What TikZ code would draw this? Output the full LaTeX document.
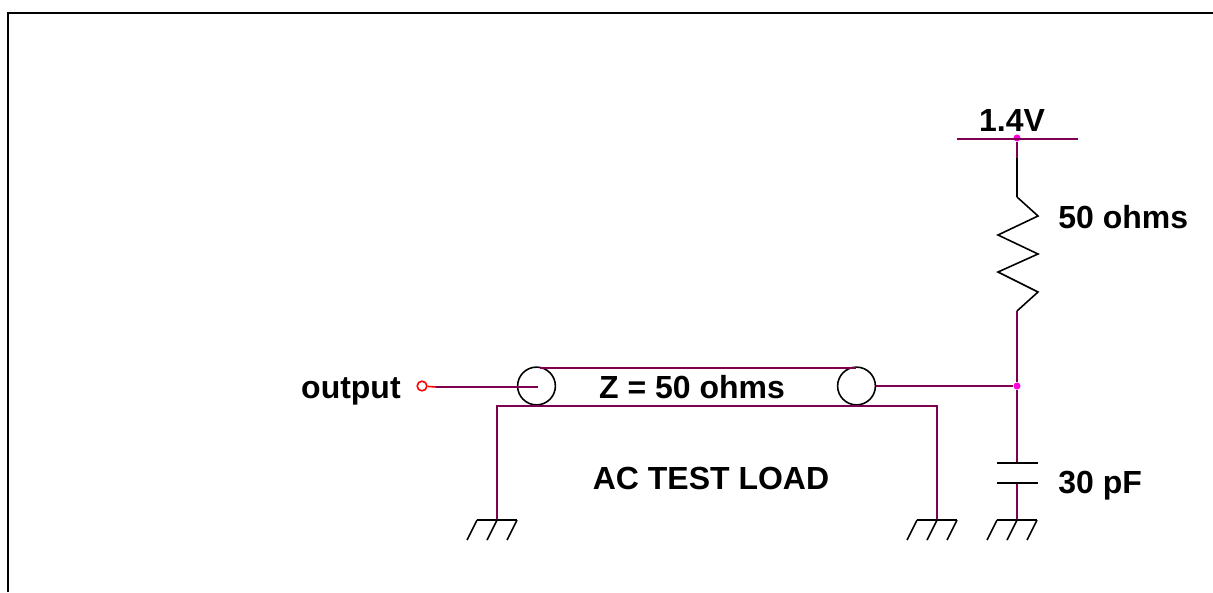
\documentclass[tikz,border=0pt]{standalone}
\usepackage{fontspec}
\setmainfont{Liberation Sans}
\usepackage{xcolor}
\usetikzlibrary{calc}
\definecolor{wire}{RGB}{128,0,80}
\definecolor{junction}{RGB}{255,0,220}
\tikzset{
    lbl/.style={font=\bfseries\fontsize{18.2}{20}\selectfont, inner sep=0pt},
    net/.style={wire, line width=0.9pt},
    part/.style={black, line width=0.9pt},
    dot/.style={circle, fill=junction, inner sep=0pt, minimum size=4pt},
    coax/.style={circle, draw=black, line width=0.9pt, inner sep=0pt, minimum size=21.5pt}
}
\newcommand{\gndsym}[1]{
    \draw[part] ($(#1)+(-20,0)$) -- ($(#1)+(20,0)$);
    \foreach \dx in {-20,0,20}
        \draw[part] ($(#1)+(\dx,0)$) -- ($(#1)+(\dx-10,20)$);
}
\begin{document}
\begin{tikzpicture}[x=0.02cm, y=-0.02cm]
    \useasboundingbox (0,0) rectangle (1213,592);
    % frame
    \draw[black, line width=1.2pt] (8,592) -- (8,13) -- (1213,13);

    % nodes
    \node[dot] (top) at (1017,138) {};
    \node[dot] (mid) at (1017,386) {};
    \node[coax] (cl) at (536.5,386) {};
    \node[coax] (cr) at (856.5,386) {};
    \node[circle, draw=red, line width=0.9pt, inner sep=0pt, minimum size=5.5pt] (out) at (422,386) {};
    \coordinate (clc) at (538,387);
    \coordinate (outw) at (436,387);
    \coordinate (shl) at (540,368);
    \coordinate (shr) at (856,368);
    \coordinate (railL) at (957,139);
    \coordinate (railR) at (1078,139);
    \coordinate (resW) at (1017,158);
    \coordinate (resT) at (1017,197);
    \coordinate (resB) at (1017,311);
    \coordinate (capT) at (1017,463);
    \coordinate (capB) at (1017,483);
    \coordinate (g1) at (497,520);
    \coordinate (g2) at (937,520);
    \coordinate (g3) at (1017,520);

    % wires
    \draw[net] (railL) -- (railR);
    \draw[net] (top) -- (resW);
    \draw[part] (resW) -- (resT);
    \draw[part] (resT) -- (1038,216) -- (998,235) -- (1038,254) -- (998,272) -- (1038,292) -- (resB);
    \draw[net] (resB) -- (mid);
    \draw[net] (mid) -- (capT);
    \draw[net] (capB) -- (g3);
    \draw[part] (997,463) -- (1038,463);
    \draw[part] (997,483) -- (1038,483);
    \draw[red, line width=0.9pt] (out) -- (outw);
    \draw[net] (outw) -- (clc);
    \draw[net] (cr.east |- mid) -- (mid);
    \draw[net] (shl) -- (shr);
    \draw[net] (g1) -- (497,406) -- (937,406) -- (g2);

    % grounds
    \gndsym{g1}
    \gndsym{g2}
    \gndsym{g3}

    % labels
    \node[lbl, anchor=base] (vref) at (1012,131) {1.4V};
    \node[lbl, anchor=base west] (rlab) at (1058,228) {50 ohms};
    \node[lbl, anchor=base west] (clab) at (1058,493) {30 pF};
    \node[lbl, anchor=base east] (outlab) at (401,398) {output};
    \node[lbl, anchor=base] (zlab) at (692,398) {Z = 50 ohms};
    \node[lbl, anchor=base] (title) at (711,489) {AC TEST LOAD};
\end{tikzpicture}
\end{document}
